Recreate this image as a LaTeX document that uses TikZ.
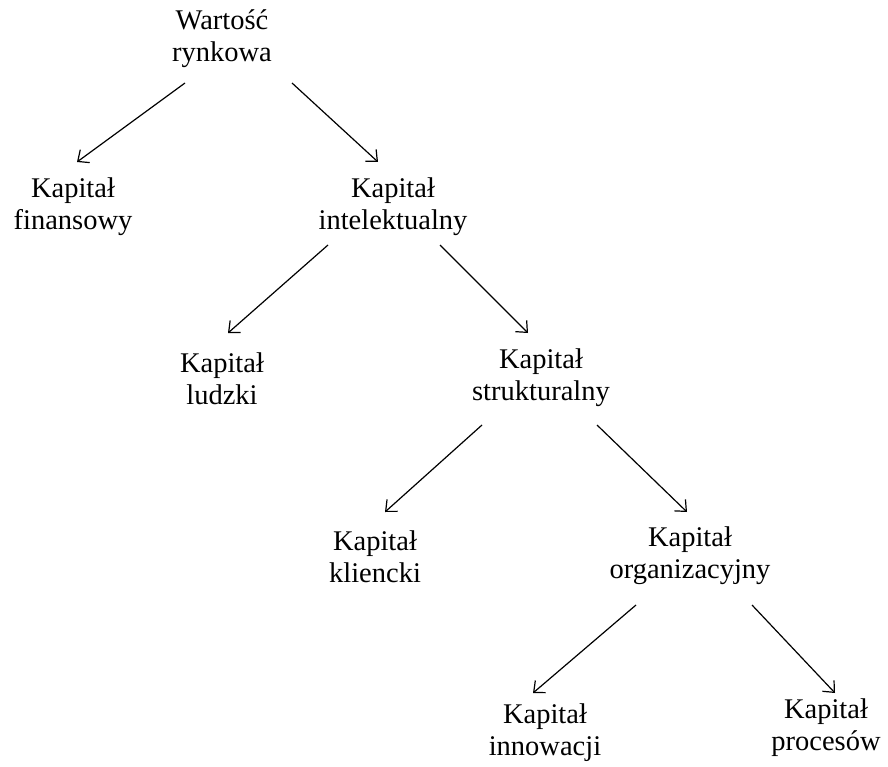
\documentclass[tikz,border=0pt]{standalone}
\usepackage{fontspec}
\setmainfont{Liberation Serif}
\usetikzlibrary{arrows.meta}
\begin{document}
\begin{tikzpicture}[x=1pt,y=-1pt,
  lab/.style={align=center,inner sep=0pt,font=\fontsize{28.5}{32}\selectfont},
  arr/.style={line width=1.2pt,-{Straight Barb[length=9pt,width=16pt,line width=1.2pt]}}]
\useasboundingbox (0,0) rectangle (888,767);
\node[lab] (wr)  at (222,39)  {Wartość\\rynkowa};
\node[lab] (fin) at (73,207)  {Kapitał\\finansowy};
\node[lab] (int) at (393,207) {Kapitał\\intelektualny};
\node[lab] (lud) at (222,379) {Kapitał\\ludzki};
\node[lab] (str) at (541,378) {Kapitał\\strukturalny};
\node[lab] (kli) at (375,557) {Kapitał\\kliencki};
\node[lab] (org) at (690,556) {Kapitał\\organizacyjny};
\node[lab] (inn) at (545,733) {Kapitał\\innowacji};
\node[lab] (pro) at (826,728) {Kapitał\\procesów};
\draw[arr] ([xshift=-37pt,yshift=-44pt]wr.center) -- ([xshift=4pt,yshift=45pt]fin.center);
\draw[arr] ([xshift=70pt,yshift=-44pt]wr.center) -- ([xshift=-15pt,yshift=45pt]int.center);
\draw[arr] ([xshift=-65pt,yshift=-38pt]int.center) -- ([xshift=6pt,yshift=46pt]lud.center);
\draw[arr] ([xshift=47pt,yshift=-38pt]int.center) -- ([xshift=-13pt,yshift=45pt]str.center);
\draw[arr] ([xshift=-59pt,yshift=-47pt]str.center) -- ([xshift=10pt,yshift=45pt]kli.center);
\draw[arr] ([xshift=56pt,yshift=-47pt]str.center) -- ([xshift=-3pt,yshift=44pt]org.center);
\draw[arr] ([xshift=-54pt,yshift=-49pt]org.center) -- ([xshift=-12pt,yshift=40pt]inn.center);
\draw[arr] ([xshift=62pt,yshift=-49pt]org.center) -- ([xshift=9pt,yshift=35pt]pro.center);
\end{tikzpicture}
\end{document}
